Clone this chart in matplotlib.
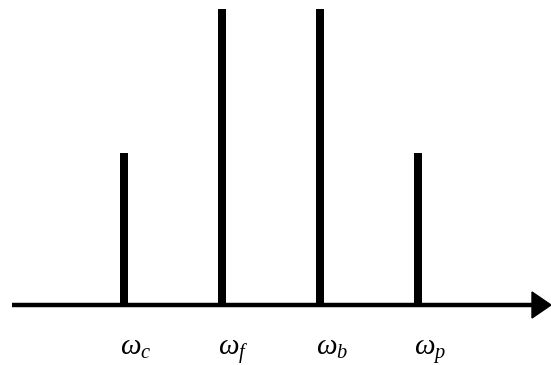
import matplotlib
matplotlib.use("Agg")
import matplotlib.pyplot as plt
import matplotlib.transforms as mtransforms
from matplotlib.patches import Polygon

plt.rcParams["mathtext.fontset"] = "custom"
plt.rcParams["mathtext.it"] = "Liberation Serif:italic"
plt.rcParams["mathtext.rm"] = "Liberation Serif"

# Spectral lines: idler, fundamental, backward and pump frequencies
labels = [r"$\omega_c$", r"$\omega_f$", r"$\omega_b$", r"$\omega_p$"]
positions = [1, 2, 3, 4]
amplitudes = [0.51, 1.0, 1.0, 0.51]

W, H = 551, 365
fig = plt.figure(figsize=(W / 100, H / 100), dpi=100)
ax = fig.add_axes([0, 0, 1, 1])

px_per_x = 98.0
px_per_y = 294.0
x0_px = 124.0          # pixel column of position 1
y0_px = H - 303.0      # pixel row (from bottom) of zero amplitude
ax.set_xlim(1 - x0_px / px_per_x, 1 + (W - x0_px) / px_per_x)
ax.set_ylim(-y0_px / px_per_y, (H - y0_px) / px_per_y)
ax.axis("off")

# vertical lines
ax.bar(positions, amplitudes, width=7.5 / px_per_x, bottom=0,
       color="black", zorder=3)

# frequency axis with arrow head
y_axis = -2.0 / px_per_y
trans = mtransforms.blended_transform_factory(ax.transAxes, ax.transData)
ax.plot([12 / W, 533 / W], [y_axis, y_axis], color="black", lw=3.2,
        transform=trans, solid_capstyle="butt", zorder=2)
hw = 13.0 / px_per_y
head = Polygon([[532 / W, y_axis + hw], [1.0, y_axis], [532 / W, y_axis - hw]],
               closed=True, color="black", transform=trans, zorder=2)
ax.add_patch(head)

# labels below the axis
label_y = -(355.0 - 303.0) / px_per_y
for x, lab in zip(positions, labels):
    ax.annotate(lab, xy=(x, label_y), xytext=(-4, 0), textcoords="offset pixels",
                ha="left", va="baseline", fontsize=21, color="black")

fig.savefig("out.png", dpi=100)
